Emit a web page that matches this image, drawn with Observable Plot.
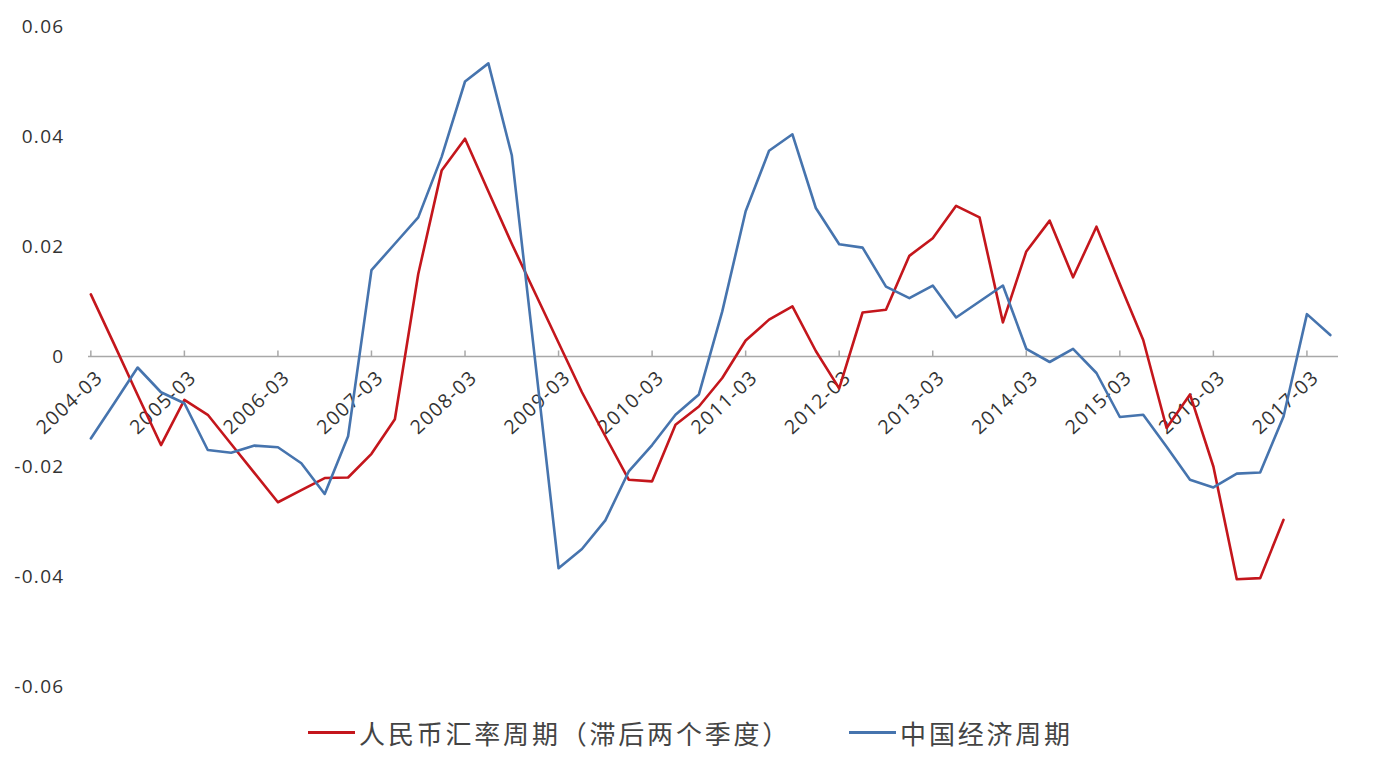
<!DOCTYPE html>
<html>
<head>
<meta charset="utf-8">
<script src="https://cdn.jsdelivr.net/npm/d3@7"></script>
<script src="https://cdn.jsdelivr.net/npm/@observablehq/plot@0.6"></script>
<style>
  html, body { margin: 0; padding: 0; background: #fff; }
  #chart svg text { letter-spacing: 1.3px; }
  .legend { display: flex; align-items: center; justify-content: center; height: 64px;
    font-family: "Noto Sans CJK SC", "Noto Sans", sans-serif; font-size: 26px; color: #444; letter-spacing: 2.8px; }
  .sw { display: inline-block; width: 47px; height: 3px; margin-right: 4px; }
</style>
</head>
<body>
<div id="chart"></div>
<div class="legend">
  <span class="sw" style="background:#c4161c"></span><span>人民币汇率周期（滞后两个季度）</span>
  <span class="sw" style="background:#4674ae;margin-left:58px"></span><span>中国经济周期</span>
</div>
<script>
const quarters = [
  "2004-03","2004-06","2004-09","2004-12","2005-03","2005-06","2005-09","2005-12",
  "2006-03","2006-06","2006-09","2006-12","2007-03","2007-06","2007-09","2007-12",
  "2008-03","2008-06","2008-09","2008-12","2009-03","2009-06","2009-09","2009-12",
  "2010-03","2010-06","2010-09","2010-12","2011-03","2011-06","2011-09","2011-12",
  "2012-03","2012-06","2012-09","2012-12","2013-03","2013-06","2013-09","2013-12",
  "2014-03","2014-06","2014-09","2014-12","2015-03","2015-06","2015-09","2015-12",
  "2016-03","2016-06","2016-09","2016-12","2017-03","2017-06"
];
const xTickLabels = ["2004-03","2005-03","2006-03","2007-03","2008-03","2009-03","2010-03",
  "2011-03","2012-03","2013-03","2014-03","2015-03","2016-03","2017-03"];
const yTicks = [-0.06, -0.04, -0.02, 0, 0.02, 0.04, 0.06];

// 人民币汇率周期（滞后两个季度）
const rmbCycle = [
  0.0113, 0.0022, -0.0070, -0.0161, -0.0079, -0.0106, -0.0159, -0.0212,
  -0.0265, -0.0243, -0.0221, -0.0220, -0.0177, -0.0114, 0.0150, 0.0338,
  0.0396, 0.0300, 0.0205, 0.0115, 0.0025, -0.0065, -0.0145, -0.0224,
  -0.0227, -0.0124, -0.0091, -0.0039, 0.0029, 0.0067, 0.0091, 0.0010,
  -0.0058, 0.0080, 0.0085, 0.0183, 0.0215, 0.0274, 0.0253, 0.0062,
  0.0191, 0.0247, 0.0144, 0.0236, 0.0132, 0.0030, -0.0130, -0.0069,
  -0.0200, -0.0405, -0.0403, -0.0297
];
// 中国经济周期
const econCycle = [
  -0.0149, -0.0085, -0.0020, -0.0065, -0.0085, -0.0170, -0.0175, -0.0162,
  -0.0165, -0.0194, -0.0250, -0.0145, 0.0157, 0.0205, 0.0253, 0.0363,
  0.0500, 0.0533, 0.0366, -0.0008, -0.0385, -0.0350, -0.0298, -0.0209,
  -0.0161, -0.0106, -0.0069, 0.0082, 0.0264, 0.0374, 0.0404, 0.0270,
  0.0204, 0.0198, 0.0127, 0.0106, 0.0129, 0.0071, 0.0100, 0.0129,
  0.0014, -0.0010, 0.0014, -0.0030, -0.0110, -0.0106, -0.0164, -0.0224,
  -0.0238, -0.0213, -0.0211, -0.0109, 0.0077, 0.0039
];

const rmbData = rmbCycle.map((v, i) => ({i, q: quarters[i], v}));
const econData = econCycle.map((v, i) => ({i, q: quarters[i], v}));
const tickIdx = xTickLabels.map(l => quarters.indexOf(l));
const fmt = d => d === 0 ? "0" : d.toFixed(2);

const chart = Plot.plot({
  width: 1381,
  height: 700,
  marginLeft: 88,
  marginRight: 43,
  marginTop: 26,
  marginBottom: 14,
  x: {domain: [-0.1, 53.35], axis: null},
  y: {domain: [-0.06, 0.06], axis: null},
  style: {fontFamily: "'Open Sans', sans-serif", background: "#fff", color: "#333"},
  marks: [
    Plot.axisY(yTicks, {tickSize: 0, tickPadding: 24, tickFormat: fmt, fontSize: 19, fill: "#333", label: null}),
    Plot.ruleY([0], {stroke: "#a8a8a8", strokeWidth: 1.5}),
    Plot.ruleX(tickIdx, {x: d => d, y1: 0, y2: 0.001, stroke: "#a8a8a8", strokeWidth: 1.5}),
    Plot.text(xTickLabels, {x: d => quarters.indexOf(d), y: () => 0, text: d => d,
      rotate: -43, textAnchor: "end", dx: 9, dy: 18, fontSize: 19.5, fill: "#333"}),
    Plot.line(rmbData, {x: "i", y: "v", stroke: "#c4161c", strokeWidth: 2.6}),
    Plot.line(econData, {x: "i", y: "v", stroke: "#4674ae", strokeWidth: 2.6})
  ]
});
document.getElementById("chart").appendChild(chart);
</script>
</body>
</html>
